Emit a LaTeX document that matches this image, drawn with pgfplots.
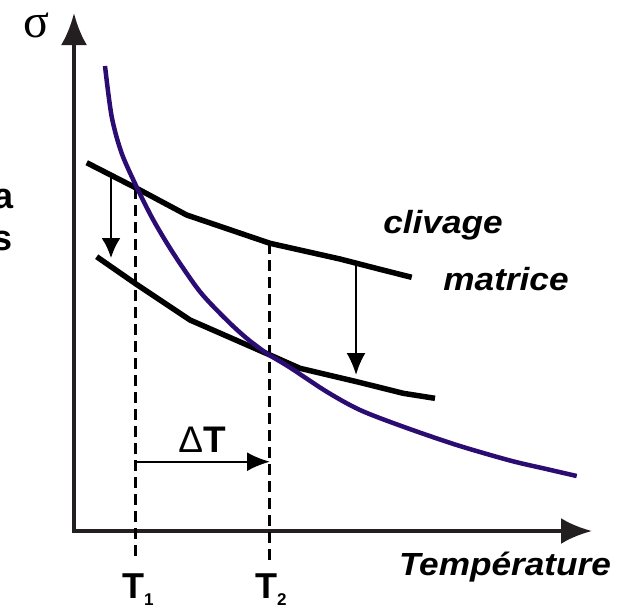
\documentclass[border=0pt]{standalone}
\usepackage{fontspec}
\setmainfont{Liberation Sans}
\newfontfamily\seriffont{Liberation Serif}
\usepackage{graphicx}
\usepackage{pgfplots}
\pgfplotsset{compat=1.18}
\usetikzlibrary{arrows.meta}
\definecolor{curvecol}{HTML}{2B0C72}
\definecolor{axiscol}{HTML}{231F20}
\begin{document}
\begin{tikzpicture}
\begin{axis}[
  at={(0,0)}, anchor=origin,
  scale only axis, width=629pt, height=605pt,
  xmin=0, xmax=629, ymin=0, ymax=605, y dir=reverse,
  hide axis, clip=false,
]
% axes
\addplot[axiscol, line width=4, line join=miter,
  {Latex[length=32pt,width=26pt]}-{Latex[length=31pt,width=26pt]}]
  coordinates {(74,13) (74,531) (592,531)};
% dashed verticals
\addplot[black, line width=3.5, dash pattern=on 11pt off 6pt]
  coordinates {(135.3,188) (135.3,560)};
\addplot[black, line width=3.5, dash pattern=on 11pt off 6pt]
  coordinates {(269.5,243) (269.5,560)};
% clivage line
\addplot[black, line width=5.5]
  coordinates {(86.7,162.7) (136.7,188.3) (186.7,215) (270,243.3) (340,259) (380,269.3) (411.7,277.3)};
% matrice line
\addplot[black, line width=5.5]
  coordinates {(96.7,256.7) (135,283.3) (190,320) (270,355) (300,368.3) (356.7,381.7) (403.3,393.3) (435,398.3)};
% curve
\addplot[curvecol, line width=4.5, smooth, tension=0.5]
  coordinates {(105,66) (111.7,116.7) (121.7,153.3) (137.3,188.3) (153.3,220) (173.3,253.3) (200,291.7) (226.7,320) (246.7,338.3) (266.7,353.3) (290,367.5) (326.7,391.7) (360,410) (403.3,426.7) (456.7,445) (510,460.5) (543.3,468.3) (576.7,476)};
% shift arrows
\addplot[black, line width=2.3, -{Latex[length=20pt,width=19pt]}]
  coordinates {(111,176) (111,258)};
\addplot[black, line width=2.3, -{Latex[length=22pt,width=19pt]}]
  coordinates {(356,263) (356,375)};
\addplot[black, line width=2.3, -{Latex[length=23pt,width=19pt]}]
  coordinates {(135.3,461.7) (270,461.7)};
% labels
\node[anchor=base, inner sep=0] at (axis cs:36,37) {\fontsize{48}{48}\selectfont\seriffont σ};
\node[anchor=base east, inner sep=0] at (axis cs:14,208) {\fontsize{36}{36}\selectfont\bfseries a};
\node[anchor=base east, inner sep=0] at (axis cs:13,250) {\fontsize{36}{36}\selectfont\bfseries s};
\node[anchor=base, inner sep=0] at (axis cs:443,233) {\fontsize{32}{32}\selectfont\bfseries\itshape\scalebox{1.1}[1]{clivage}};
\node[anchor=base, inner sep=0] at (axis cs:506,290) {\fontsize{32}{32}\selectfont\bfseries\itshape\scalebox{1.1}[1]{matrice}};
\node[anchor=base, inner sep=0] at (axis cs:505,575) {\fontsize{32}{32}\selectfont\bfseries\itshape\scalebox{1.1}[1]{Température}};
\node[anchor=base, inner sep=0] at (axis cs:202,452) {\fontsize{37}{37}\selectfont Δ\bfseries T};
\node[anchor=base west, inner sep=0] at (axis cs:122,598) {\fontsize{36}{36}\selectfont\bfseries T\raisebox{-0.22em}{\fontsize{17}{17}\selectfont 1}};
\node[anchor=base west, inner sep=0] at (axis cs:255,598) {\fontsize{36}{36}\selectfont\bfseries T\raisebox{-0.22em}{\fontsize{17}{17}\selectfont 2}};
\end{axis}
\pgfresetboundingbox
\path[use as bounding box] (0,0) rectangle (629pt,-605pt);
\end{tikzpicture}
\end{document}
